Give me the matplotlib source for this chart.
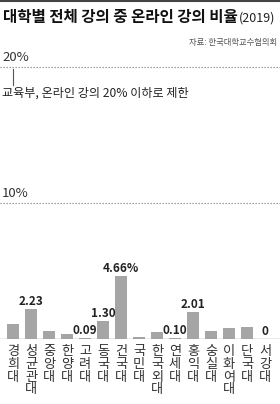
import matplotlib
matplotlib.use("Agg")
import matplotlib.pyplot as plt

plt.rcParams['font.family'] = ['Noto Sans CJK KR', 'DejaVu Sans']

universities = ["경희대", "성균관대", "중앙대", "한양대", "고려대", "동국대", "건국대", "국민대",
                "한국외대", "연세대", "홍익대", "숭실대", "이화여대", "단국대", "서강대"]
values = [1.10, 2.23, 0.62, 0.40, 0.09, 1.30, 4.66, 0.18, 0.48, 0.10, 2.01, 0.62, 0.82, 0.90, 0.0]
value_labels = {"성균관대": "2.23", "고려대": "0.09", "동국대": "1.30", "건국대": "4.66%",
                "연세대": "0.10", "홍익대": "2.01", "서강대": "0"}
yticks = [10, 20]
ytick_labels = ["10%", "20%"]

W, H = 280, 404
fig = plt.figure(figsize=(W / 100, H / 100), dpi=100)
fig.patch.set_facecolor("white")

base_px = 339
px_per = 13.6
ymax = 20.6
ax = fig.add_axes([0, (H - base_px) / H, 1, ymax * px_per / H])
x = list(range(len(universities)))
ax.bar(x, values, width=0.72, color="#a5a5a5", zorder=2)
ax.set_xlim(-13 / 18, (W - 13) / 18)
ax.set_ylim(0, ymax)
ax.axis("off")
ax.axhline(0, color="#9a9a9a", lw=1.0, zorder=3)
for t, lab in zip(yticks, ytick_labels):
    ax.axhline(t, color="#8a8a8a", lw=0.8, ls=(0, (1.2, 1.5)), zorder=1)
    ax.annotate(lab, xy=(0, t), xycoords=("axes fraction", "data"),
                xytext=(2, 3), textcoords="offset pixels", ha="left", va="bottom",
                fontsize=9.5, color="#333333")

for xi, name, v in zip(x, universities, values):
    if name in value_labels:
        ax.annotate(value_labels[name], xy=(xi, v), xytext=(0, 1), textcoords="offset pixels",
                    ha="center", va="bottom", fontsize=8.5, fontweight="bold", color="#222222")
    ax.annotate("\n".join(name), xy=(xi, 0), xytext=(0, -6), textcoords="offset pixels",
                ha="center", va="top", fontsize=9.5, color="#333333", linespacing=0.98)

# annotation for 20% limit
fig.add_artist(plt.Line2D([13 / W, 13 / W], [1 - 69 / H, 1 - 85 / H], color="#555555", lw=0.8))
fig.text(2 / W, 1 - 93 / H, "교육부, 온라인 강의 20% 이하로 제한", ha="left", va="center",
         fontsize=8.7, color="#222222")

# top rule
fig.add_artist(plt.Line2D([0, 1], [1 - 0.5 / H, 1 - 0.5 / H], color="#444444", lw=1.5))

title = fig.text(3 / W, 1 - 17 / H, "대학별 전체 강의 중 온라인 강의 비율", ha="left", va="center",
                 fontsize=11.2, fontweight="bold", color="#111111")
fig.canvas.draw()
bb = title.get_window_extent()
fig.text((bb.x1 + 1) / W, 1 - 18 / H, "(2019)", ha="left", va="center",
         fontsize=9, color="#222222")
fig.text(277 / W, 1 - 43 / H, "자료: 한국대학교수협의회", ha="right", va="center",
         fontsize=6, color="#555555")

fig.savefig("out.png", dpi=100)
